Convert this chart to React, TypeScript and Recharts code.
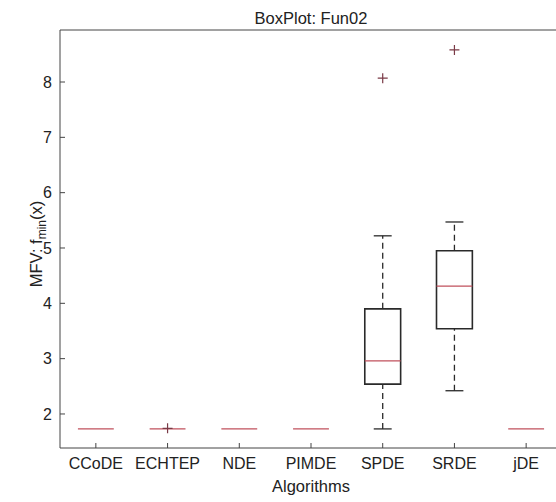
import React from "react"
import {
  ComposedChart,
  XAxis,
  YAxis,
  Scatter,
  ReferenceArea,
  ReferenceLine,
} from "recharts"

const ALGORITHMS = ["CCoDE", "ECHTEP", "NDE", "PIMDE", "SPDE", "SRDE", "jDE"]
const WHISKER_LOW = [1.73, 1.73, 1.73, 1.73, 1.73, 2.42, 1.73]
const Q1 = [1.73, 1.73, 1.73, 1.73, 2.54, 3.54, 1.73]
const MEDIAN = [1.73, 1.73, 1.73, 1.73, 2.96, 4.31, 1.73]
const Q3 = [1.73, 1.73, 1.73, 1.73, 3.9, 4.95, 1.73]
const WHISKER_HIGH = [1.73, 1.73, 1.73, 1.73, 5.22, 5.47, 1.73]
const OUTLIERS = [[], [1.74], [], [], [8.07], [8.58], []]
const Y_TICKS = [2, 3, 4, 5, 6, 7, 8]
const X_TICKS = [1, 2, 3, 4, 5, 6, 7]

const Y_DOMAIN: [number, number] = [1.385, 8.94]
const X_DOMAIN: [number, number] = [0.5, 7.5]

const BOX_HALF = 0.25
const CAP_HALF = 0.125

const FONT = "'Liberation Sans', Arial, Helvetica, sans-serif"
const TEXT = "#222"
const AXIS = "#444"
const BOX = "#2a2a2a"
const MED = "#c0505c"
const OUT = "#7a3a46"
const TICK_LEN = 5
const Y_MARGIN = 8
const X_MARGIN = 10

const outlierData = OUTLIERS.flatMap((vals, i) => vals.map((v) => ({ x: i + 1, y: v })))

function LeftTick({ x, y, payload }: any) {
  const ax = x + Y_MARGIN
  return (
    <g>
      <line x1={ax} y1={y} x2={ax + TICK_LEN} y2={y} stroke={AXIS} />
      <text x={x} y={y} dy="0.36em" textAnchor="end" fontSize={16} fontFamily={FONT} fill={TEXT}>
        {payload.value}
      </text>
    </g>
  )
}

function BottomTick({ x, y, payload }: any) {
  const ay = y - X_MARGIN
  return (
    <g>
      <line x1={x} y1={ay} x2={x} y2={ay - TICK_LEN} stroke={AXIS} />
      <text x={x} y={y} dy="0.71em" textAnchor="middle" fontSize={16} fontFamily={FONT} fill={TEXT}>
        {ALGORITHMS[payload.value - 1]}
      </text>
    </g>
  )
}

function TopTick({ x, y }: any) {
  return <line x1={x} y1={y} x2={x} y2={y + TICK_LEN} stroke={AXIS} />
}

function RightTick({ x, y }: any) {
  return <line x1={x} y1={y} x2={x - TICK_LEN} y2={y} stroke={AXIS} />
}

function PlusMarker({ cx, cy }: any) {
  return (
    <path
      d={`M${cx - 5},${cy}h10M${cx},${cy - 5}v10`}
      stroke={OUT}
      strokeWidth={1.2}
      fill="none"
    />
  )
}

function YLabel() {
  return (
    <text
      transform="translate(42,244) rotate(-90)"
      textAnchor="middle"
      fontSize={16.5}
      fontFamily={FONT}
      fill={TEXT}
    >
      <tspan>{"MFV:\u00A0f"}</tspan>
      <tspan fontSize={12} dy={4}>{"min"}</tspan>
      <tspan dy={-4}>{"(x)"}</tspan>
    </text>
  )
}

export default function App() {
  return (
    <div
      style={{
        position: "fixed",
        left: 0,
        top: 0,
        width: 556,
        height: 502,
        overflow: "hidden",
        background: "#fff",
        fontFamily: FONT,
      }}
    >
      <div
        style={{
          position: "absolute",
          left: 0,
          top: 10,
          width: 622,
          textAlign: "center",
          fontSize: 16.5,
          lineHeight: 1,
          color: TEXT,
        }}
      >
        BoxPlot: Fun02
      </div>
      <ComposedChart width={570} height={502} margin={{ top: 0, right: 0, bottom: 0, left: 0 }}>
        <XAxis
          dataKey="x"
          type="number"
          domain={X_DOMAIN}
          allowDataOverflow
          ticks={X_TICKS}
          interval={0}
          height={54}
          tickSize={0}
          tickMargin={X_MARGIN}
          tickLine={false}
          axisLine={{ stroke: AXIS }}
          tick={<BottomTick />}
          label={{
            value: "Algorithms",
            position: "insideBottom",
            offset: 10,
            fontSize: 16.5,
            fontFamily: FONT,
            fill: TEXT,
          }}
        />
        <XAxis
          xAxisId="top"
          orientation="top"
          type="number"
          domain={X_DOMAIN}
          allowDataOverflow
          ticks={X_TICKS}
          interval={0}
          height={30}
          tickSize={0}
          tickMargin={0}
          tickLine={false}
          axisLine={{ stroke: AXIS }}
          tick={<TopTick />}
        />
        <YAxis
          dataKey="y"
          type="number"
          domain={Y_DOMAIN}
          allowDataOverflow
          ticks={Y_TICKS}
          interval={0}
          width={60}
          tickSize={0}
          tickMargin={Y_MARGIN}
          tickLine={false}
          axisLine={{ stroke: AXIS }}
          tick={<LeftTick />}
          label={() => <YLabel />}
        />
        <YAxis
          yAxisId="right"
          orientation="right"
          type="number"
          domain={Y_DOMAIN}
          allowDataOverflow
          ticks={Y_TICKS}
          interval={0}
          width={8}
          tickSize={0}
          tickMargin={0}
          tickLine={false}
          axisLine={{ stroke: AXIS }}
          tick={<RightTick />}
        />

        {ALGORITHMS.map((name, i) => {
          const c = i + 1
          if (WHISKER_HIGH[i] === WHISKER_LOW[i]) return null
          return (
            <React.Fragment key={name}>
              <ReferenceLine
                segment={[{ x: c, y: Q3[i] }, { x: c, y: WHISKER_HIGH[i] }]}
                stroke={BOX}
                strokeWidth={1.3}
                strokeDasharray="6 4"
              />
              <ReferenceLine
                segment={[{ x: c, y: WHISKER_LOW[i] }, { x: c, y: Q1[i] }]}
                stroke={BOX}
                strokeWidth={1.3}
                strokeDasharray="6 4"
              />
              <ReferenceLine
                segment={[{ x: c - CAP_HALF, y: WHISKER_HIGH[i] }, { x: c + CAP_HALF, y: WHISKER_HIGH[i] }]}
                stroke={BOX}
                strokeWidth={1.3}
              />
              <ReferenceLine
                segment={[{ x: c - CAP_HALF, y: WHISKER_LOW[i] }, { x: c + CAP_HALF, y: WHISKER_LOW[i] }]}
                stroke={BOX}
                strokeWidth={1.3}
              />
              <ReferenceArea
                x1={c - BOX_HALF}
                x2={c + BOX_HALF}
                y1={Q1[i]}
                y2={Q3[i]}
                fill="none"
                stroke={BOX}
                strokeWidth={1.6}
              />
            </React.Fragment>
          )
        })}

        {ALGORITHMS.map((name, i) => (
          <ReferenceLine
            key={`med-${name}`}
            segment={[{ x: i + 1 - BOX_HALF, y: MEDIAN[i] }, { x: i + 1 + BOX_HALF, y: MEDIAN[i] }]}
            stroke={MED}
            strokeWidth={1.4}
          />
        ))}

        <Scatter data={outlierData} shape={<PlusMarker />} isAnimationActive={false} />
      </ComposedChart>
    </div>
  )
}
